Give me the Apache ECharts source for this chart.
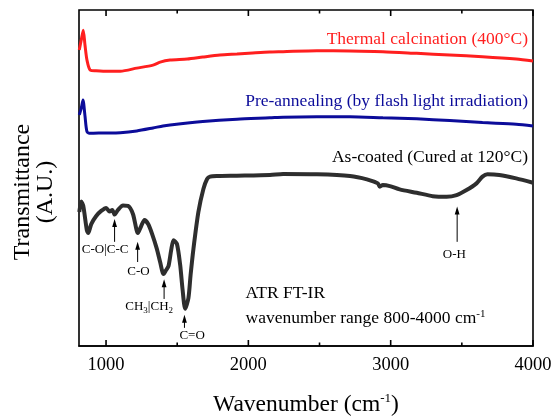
<!DOCTYPE html>
<html>
<head>
<meta charset="utf-8">
<script src="https://cdn.jsdelivr.net/npm/echarts@6/dist/echarts.min.js"></script>
<style>html,body{margin:0;padding:0;background:#fff;}#c{width:554px;height:416px;}</style>
</head>
<body>
<div id="c"></div>
<script>
// ---- data (wavenumber in cm-1, transmittance in arbitrary units) ----
const redWn   = [812, 826, 840, 852, 866, 889, 930, 980, 1100, 1216, 1330, 1380, 1450, 1570, 1680, 1800, 1920, 2030, 2150, 2244, 2482, 2714, 2945, 3183, 3415, 3645, 3882, 4000];
const redT    = [88.1, 91.1, 94.0, 89.6, 85.1, 82.1, 81.9, 81.8, 81.8, 82.7, 83.6, 84.5, 85.1, 85.4, 86.0, 86.6, 86.9, 87.2, 87.5, 87.6, 87.9, 87.8, 87.6, 87.1, 86.6, 86.1, 85.4, 84.8];

const blueWn  = [812, 826, 838, 852, 866, 889, 980, 1100, 1216, 1330, 1400, 1450, 1680, 1920, 2150, 2244, 2482, 2714, 2945, 3183, 3415, 3645, 3882, 4000];
const blueT   = [68.8, 70.8, 73.2, 68.5, 63.8, 63.3, 63.4, 63.5, 64.0, 64.9, 65.5, 65.8, 66.8, 67.5, 67.9, 68.1, 68.2, 68.2, 67.9, 67.6, 67.1, 66.5, 66.0, 65.5];

const blackWn = [812, 826, 840, 865, 875, 896, 931, 966, 1001, 1025, 1044, 1060, 1084, 1119, 1154, 1189, 1224, 1247, 1270, 1296, 1324, 1357, 1380, 1404, 1422, 1439, 1458, 1474, 1498, 1521, 1538, 1556, 1579, 1594, 1614, 1649, 1684, 1710, 1731, 1778, 1919, 2152, 2244, 2482, 2714, 2833, 2910, 2924, 2945, 2994, 3063, 3183, 3295, 3393, 3463, 3533, 3603, 3645, 3680, 3763, 3882, 4000];
const blackT  = [39.9, 43.0, 41.7, 34.5, 33.6, 36.3, 38.7, 40.2, 41.1, 40.0, 40.5, 39.1, 40.5, 41.8, 41.7, 39.3, 33.6, 35.7, 37.5, 36.3, 33.3, 28.9, 25.0, 21.4, 22.6, 23.8, 28.6, 31.5, 30.4, 24.1, 16.7, 11.1, 14.3, 21.1, 28.9, 39.9, 46.7, 49.7, 50.4, 50.6, 50.7, 50.9, 51.2, 51.1, 50.6, 49.6, 48.4, 47.4, 47.9, 47.6, 46.6, 45.6, 44.6, 44.4, 44.9, 46.4, 48.4, 50.4, 51.1, 50.9, 49.9, 48.6];

const seriesNames = ['Thermal calcination (400°C)', 'Pre-annealing (by flash light irradiation)', 'As-coated (Cured at 120°C)'];
const seriesLabelT = [91.3, 72.7, 56.0];

const majorTicks = [1000, 2000, 3000, 4000];
const minorTicks = [1500, 2500, 3500];

// peak annotations
const annoText    = ['C-O|C-C', 'C-O', '{n|CH}{s|3}{n||CH}{s|2}', 'C=O', 'O-H'];
const annoArrowWn = [1060, 1222, 1408, 1551, 3467];
const annoTipT    = [37.8, 31.0, 19.9, 9.3, 41.5];
const annoTailT   = [31.0, 25.0, 14.0, 5.4, 31.0];
const annoLabelWn = [994, 1228, 1303, 1605, 3447];
const annoLabelT  = [28.6, 22.1, 11.7, 3.0, 27.1];

const FONT = 'Liberation Serif';
const chart = echarts.init(document.getElementById('c'), null, {renderer: 'canvas'});

function pairs(xs, ys) { return xs.map((x, i) => [x, ys[i]]); }

chart.setOption({
  animation: false,
  backgroundColor: '#fff',
  grid: {left: 79, right: 21, top: 10, bottom: 70, outerBoundsMode: 'none', containLabel: false,
    show: true, borderColor: '#000', borderWidth: 1.6},
  xAxis: {type: 'value', min: 810, max: 4000, position: 'bottom',
    axisLine: {show: true, lineStyle: {color: '#000', width: 1.6}}, splitLine: {show: false},
    axisTick: {show: false},
    axisLabel: {show: true, fontFamily: FONT, fontSize: 18.5, color: '#000', margin: 9.5,
      customValues: majorTicks, formatter: v => String(v)}},
  yAxis: {type: 'value', min: 0, max: 100, axisLine: {show: false},
    axisTick: {show: false}, axisLabel: {show: false}, splitLine: {show: false}},
  series: [
    {name: seriesNames[0], type: 'line', data: pairs(redWn, redT), showSymbol: false, smooth: 0.25,
      lineStyle: {color: '#ff1f1f', width: 3}, clip: true},
    {name: seriesNames[1], type: 'line', data: pairs(blueWn, blueT), showSymbol: false, smooth: 0.25,
      lineStyle: {color: '#0c0c9a', width: 3}, clip: true},
    {name: seriesNames[2], type: 'line', data: pairs(blackWn, blackT), showSymbol: false, smooth: 0.25,
      lineStyle: {color: '#2e2e2e', width: 4}, clip: true}
  ]
});

// ---- ticks, texts and arrows placed through the chart's own scales ----
const px = (wn, t) => chart.convertToPixel({gridIndex: 0}, [wn, t]);
const graphics = [];
function addTicks(values, len) {
  values.forEach(v => {
    const b = px(v, 0), t = px(v, 100);
    graphics.push({type: 'line', shape: {x1: b[0], y1: b[1], x2: b[0], y2: b[1] - len},
      style: {stroke: '#000', lineWidth: 1.6}, silent: true});
    graphics.push({type: 'line', shape: {x1: t[0], y1: t[1], x2: t[0], y2: t[1] + len},
      style: {stroke: '#000', lineWidth: 1.6}, silent: true});
  });
}
addTicks(majorTicks, 6);
addTicks(minorTicks, 3.5);

const seriesColors = ['#ff1f1f', '#0c0c9a', '#000'];
seriesNames.forEach((name, i) => {
  const p = px(3965, seriesLabelT[i]);
  graphics.push({type: 'text', x: p[0], y: p[1], style: {text: name, fill: seriesColors[i],
    font: '17.5px "' + FONT + '"', align: 'right', verticalAlign: 'middle'}, silent: true});
});
annoText.forEach((t, i) => {
  const tip = px(annoArrowWn[i], annoTipT[i]);
  const tail = px(annoArrowWn[i], annoTailT[i]);
  graphics.push({type: 'line', shape: {x1: tail[0], y1: tail[1], x2: tip[0], y2: tip[1] + 5},
    style: {stroke: '#000', lineWidth: 1}, silent: true});
  graphics.push({type: 'polygon', shape: {points: [[tip[0], tip[1]], [tip[0] - 2.4, tip[1] + 8], [tip[0] + 2.4, tip[1] + 8]]},
    style: {fill: '#000'}, silent: true});
  const lp = px(annoLabelWn[i], annoLabelT[i]);
  graphics.push({type: 'text', x: lp[0], y: lp[1], style: {text: t, fill: '#000',
    font: '13px "' + FONT + '"', align: 'center', verticalAlign: 'middle',
    rich: {n: {fontFamily: FONT, fontSize: 13, fill: '#000', lineHeight: 16},
           s: {fontFamily: FONT, fontSize: 9, fill: '#000', lineHeight: 16, padding: [8, 0, 0, 0]}}}, silent: true});
});
// method note
const m1 = px(1980, 15.7);
const m2 = px(1980, 8.2);
graphics.push({type: 'text', x: m1[0], y: m1[1], style: {text: 'ATR FT-IR', fill: '#000',
  font: '17.5px "' + FONT + '"', align: 'left', verticalAlign: 'middle'}, silent: true});
graphics.push({type: 'text', x: m2[0], y: m2[1], style: {text: 'wavenumber range 800-4000 cm{sup|-1}', fill: '#000',
  font: '17.5px "' + FONT + '"', align: 'left', verticalAlign: 'middle',
  rich: {sup: {fontFamily: FONT, fontSize: 11, fill: '#000', padding: [0, 0, 9, 0]}}}, silent: true});
// axis titles
graphics.push({type: 'text', x: 306, y: 405, style: {text: 'Wavenumber (cm{sup|-1})', fill: '#000',
  font: '23.5px "' + FONT + '"', align: 'center', verticalAlign: 'middle',
  rich: {sup: {fontFamily: FONT, fontSize: 13, fill: '#000', padding: [0, 0, 12, 0]}}}, silent: true});
graphics.push({type: 'text', x: 34, y: 192, rotation: Math.PI / 2, style: {text: 'Transmittance\n(A.U.)', fill: '#000',
  font: '24px "' + FONT + '"', align: 'center', verticalAlign: 'middle', lineHeight: 23}, silent: true});
chart.setOption({graphic: graphics});
</script>
</body>
</html>
